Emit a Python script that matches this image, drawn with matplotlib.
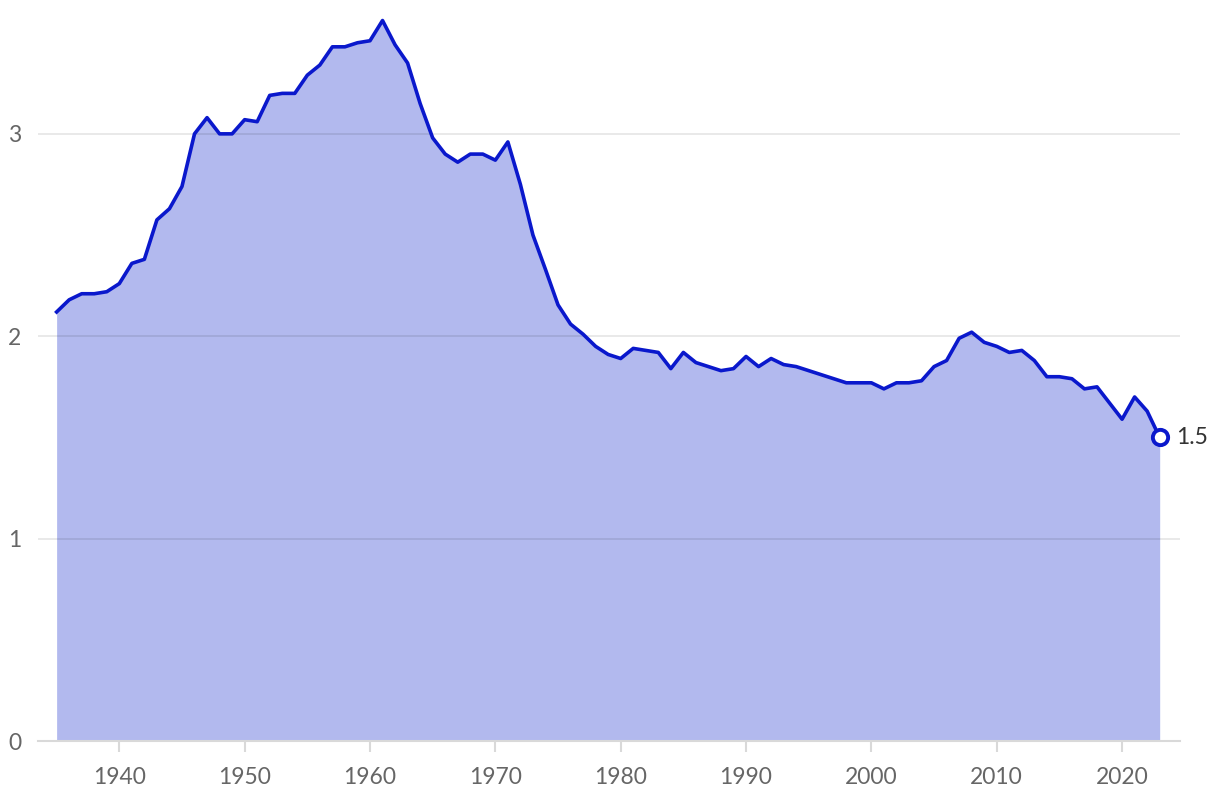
import matplotlib
matplotlib.use("Agg")
import matplotlib.pyplot as plt

years = list(range(1935, 2024))
rate = [2.12, 2.18, 2.21, 2.21, 2.22, 2.26, 2.36, 2.38, 2.575, 2.63,
        2.74, 3.00, 3.08, 3.00, 3.00, 3.07, 3.06, 3.19, 3.20, 3.20,
        3.29, 3.34, 3.43, 3.43, 3.45, 3.46, 3.56, 3.44, 3.35, 3.15,
        2.98, 2.90, 2.86, 2.90, 2.90, 2.87, 2.96, 2.75, 2.50, 2.33,
        2.155, 2.06, 2.01, 1.95, 1.91, 1.89, 1.94, 1.93, 1.92, 1.84,
        1.92, 1.87, 1.85, 1.83, 1.84, 1.90, 1.85, 1.89, 1.86, 1.85,
        1.83, 1.81, 1.79, 1.77, 1.77, 1.77, 1.74, 1.77, 1.77, 1.78,
        1.85, 1.88, 1.99, 2.02, 1.97, 1.95, 1.92, 1.93, 1.88, 1.80,
        1.80, 1.79, 1.74, 1.75, 1.67, 1.59, 1.70, 1.63, 1.50]
last_label = "1.5"
xticks = [1940, 1950, 1960, 1970, 1980, 1990, 2000, 2010, 2020]
yticks = [0, 1, 2, 3]

plt.rcParams['font.family'] = ['Lato', 'DejaVu Sans']

fig = plt.figure(figsize=(12.2, 8.06), dpi=100)
ax = fig.add_axes([0.031, 0.0806, 0.936, 0.904])

blue = "#0a18cc"
ax.fill_between(years, rate, 0, color="#b2b9ee", lw=0, zorder=1)
ax.plot(years, rate, color=blue, lw=2.6, zorder=3)
ax.plot(years[-1], rate[-1], "o", ms=11, mfc="white", mec=blue, mew=2.8, zorder=4)
ax.annotate(last_label, (years[-1], rate[-1]), xytext=(12, 0),
            textcoords="offset points", va="center", ha="left",
            fontsize=16.5, color="#333333")

ax.set_xlim(1933.5, 2024.6)
ax.set_ylim(0, 3.6)
ax.set_xticks(xticks)
ax.set_yticks(yticks)
ax.set_axisbelow(False)
ax.yaxis.grid(True, color="black", alpha=0.1, lw=1.2)
ax.xaxis.grid(False)

for s in ["top", "right", "left"]:
    ax.spines[s].set_visible(False)
ax.spines["bottom"].set_color("#d9d9d9")
ax.spines["bottom"].set_linewidth(1.5)
ax.spines["bottom"].set_zorder(5)

ax.tick_params(axis="x", length=8, width=1.5, color="#d9d9d9",
               labelsize=16.5, labelcolor="#666666", pad=11)
ax.tick_params(axis="y", length=0, labelsize=16.5, labelcolor="#666666", pad=12)

fig.savefig("out.png", dpi=100)
